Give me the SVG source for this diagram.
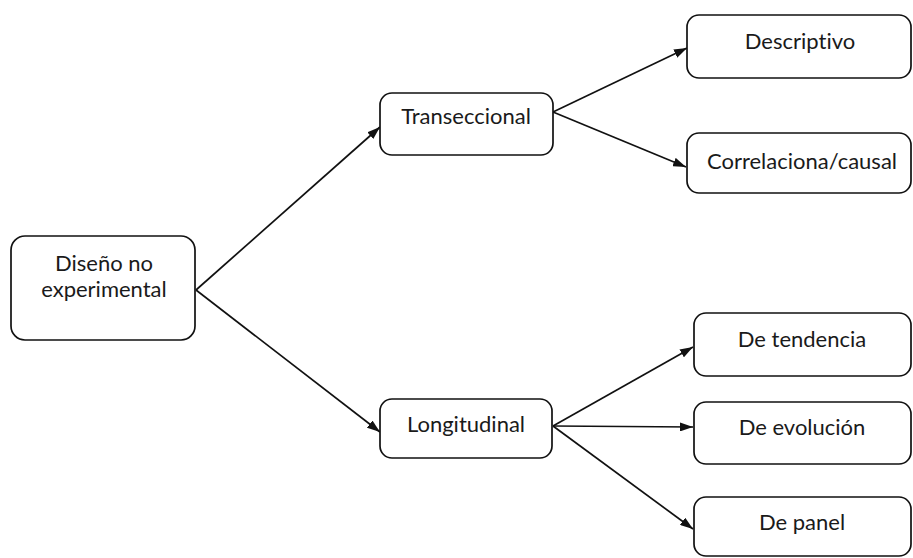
<svg xmlns="http://www.w3.org/2000/svg" width="913" height="558" viewBox="0 0 913 558">
<style>
.box{fill:#fff;stroke:#111;stroke-width:1.7}
.t{font-family:Lato,"Liberation Sans",sans-serif;font-size:22px;fill:#1a1a1a;text-anchor:middle;font-variant-ligatures:none;font-feature-settings:"liga" 0}
.c{stroke:#111;stroke-width:1.7;fill:none;marker-end:url(#ah)}
</style>
<defs>
<marker id="ah" viewBox="0 0 13 9" refX="13" refY="4.5" markerWidth="13" markerHeight="9" markerUnits="userSpaceOnUse" orient="auto">
<path d="M0,0 L13,4.5 L0,9 Z" fill="#111"/>
</marker>
</defs>
<rect width="913" height="558" fill="#fff"/>
<g id="connectors">
<line class="c" x1="196" y1="290" x2="380" y2="127"/>
<line class="c" x1="196" y1="290" x2="380" y2="432"/>
<line class="c" x1="553" y1="112" x2="687" y2="48"/>
<line class="c" x1="553" y1="112" x2="686" y2="167"/>
<line class="c" x1="553" y1="426" x2="693" y2="347"/>
<line class="c" x1="553" y1="426" x2="693" y2="427"/>
<line class="c" x1="553" y1="426" x2="693" y2="529"/>
</g>
<g id="n-diseno">
<rect class="box" x="11" y="236" width="184" height="104" rx="14"/>
<text class="t" x="104" y="271">Diseño no</text>
<text class="t" x="104" y="297">experimental</text>
</g>
<g id="n-transeccional">
<rect class="box" x="380" y="93" width="173" height="62" rx="12"/>
<text class="t" x="466" y="124">Transeccional</text>
</g>
<g id="n-longitudinal">
<rect class="box" x="380" y="399" width="172" height="59" rx="12"/>
<text class="t" x="466" y="432">Longitudinal</text>
</g>
<g id="n-descriptivo">
<rect class="box" x="687" y="15" width="224" height="63" rx="12"/>
<text class="t" x="800" y="49">Descriptivo</text>
</g>
<g id="n-correlaciona">
<rect class="box" x="687" y="133" width="224" height="60" rx="12"/>
<text class="t" x="802" y="169">Correlaciona/causal</text>
</g>
<g id="n-tendencia">
<rect class="box" x="694" y="313" width="217" height="63" rx="12"/>
<text class="t" x="802" y="347">De tendencia</text>
</g>
<g id="n-evolucion">
<rect class="box" x="694" y="402" width="217" height="62" rx="12"/>
<text class="t" x="802" y="435">De evolución</text>
</g>
<g id="n-panel">
<rect class="box" x="694" y="497" width="217" height="59" rx="12"/>
<text class="t" x="802" y="530">De panel</text>
</g>
</svg>
